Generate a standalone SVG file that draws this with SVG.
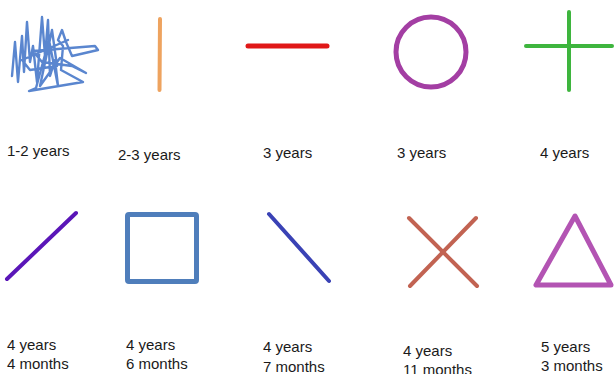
<svg xmlns="http://www.w3.org/2000/svg" width="616" height="374" viewBox="0 0 616 374">
<style>
text{font-family:"Liberation Sans","Open Sans",Arial,sans-serif;font-size:15px;fill:#1a1a1a}
.s{fill:none;stroke-linecap:round;stroke-linejoin:round}
</style>
<rect width="616" height="374" fill="#ffffff"/>
<g id="scribble">
<path class="s" stroke="#5a86cf" stroke-width="2.4" d="M12,76 L15,42 L18,82 L22,36 L24,72 L27,22 L30,62 L33,46 L37,82 L42,17 L45,56 L48,20 L50,76 L55,60 L58,86 L49,40 L36,88 L29,91 L83,82 L61,70 L63,46 L58,40 L62,30 L66,42 L72,56 L98,50 L95,46 L33,51 L42,62 L72,66 L86,73 L60,58 L40,86 L52,30 L57,66 L30,70 L22,60 L68,40"/>
<text x="7" y="156">1-2 years</text>
</g>
<g id="vertical">
<line class="s" x1="160" y1="19" x2="159.5" y2="90" stroke="#eea35f" stroke-width="4"/>
<text x="118" y="160">2-3 years</text>
</g>
<g id="horizontal">
<line class="s" x1="248" y1="46" x2="327" y2="46" stroke="#e01818" stroke-width="5"/>
<text x="263" y="158">3 years</text>
</g>
<g id="circle">
<circle cx="431" cy="52" r="35" fill="none" stroke="#a33ea3" stroke-width="5"/>
<text x="397" y="158">3 years</text>
</g>
<g id="plus">
<line class="s" x1="569" y1="12" x2="569" y2="90" stroke="#3eb53e" stroke-width="4"/>
<line class="s" x1="526" y1="46" x2="612" y2="46" stroke="#3eb53e" stroke-width="4"/>
<text x="540" y="158">4 years</text>
</g>
<g id="slash">
<line class="s" x1="7" y1="279" x2="76" y2="213" stroke="#5a16b8" stroke-width="4"/>
<text x="7" y="350">4 years</text>
<text x="7" y="369">4 months</text>
</g>
<g id="square">
<rect x="127.5" y="214.5" width="69" height="67" rx="1.5" fill="none" stroke="#4f7ebb" stroke-width="5"/>
<text x="126" y="350">4 years</text>
<text x="126" y="369">6 months</text>
</g>
<g id="backslash">
<line class="s" x1="269" y1="214" x2="329" y2="281" stroke="#3a42b5" stroke-width="4"/>
<text x="263" y="352">4 years</text>
<text x="263" y="372">7 months</text>
</g>
<g id="cross">
<line class="s" x1="409" y1="218" x2="477" y2="286" stroke="#c26352" stroke-width="4"/>
<line class="s" x1="476" y1="218" x2="410" y2="286" stroke="#c26352" stroke-width="4"/>
<text x="403" y="356">4 years</text>
<text x="403" y="375">11 months</text>
</g>
<g id="triangle">
<path class="s" d="M575,216 L536,285 L611,285 Z" stroke="#b354b3" stroke-width="5"/>
<text x="541" y="352">5 years</text>
<text x="541" y="371">3 months</text>
</g>
</svg>
